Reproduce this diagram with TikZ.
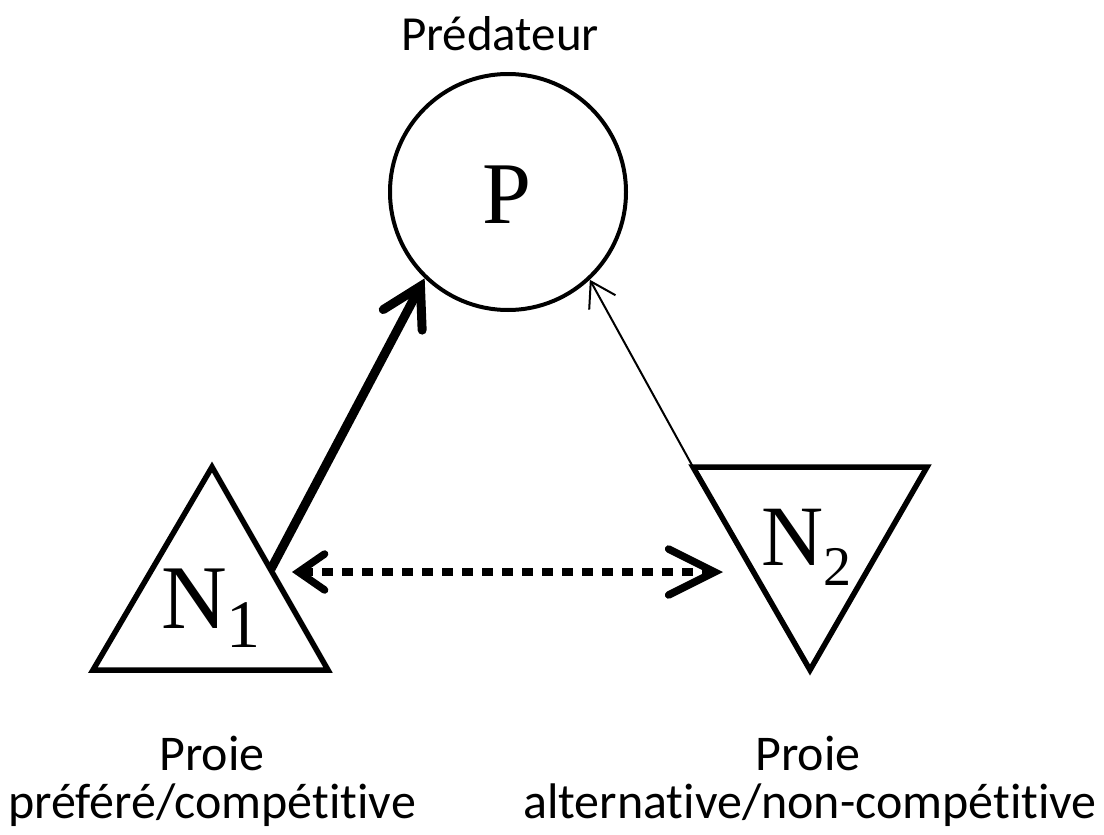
\documentclass[tikz,border=0pt]{standalone}
\usepackage{fontspec}
\setmainfont{Carlito}[Ligatures=NoCommon]
\newfontfamily\tnr{Liberation Serif}
\usetikzlibrary{arrows.meta}
\begin{document}
\begin{tikzpicture}[x=1pt,y=-1pt,
  lbl/.style={font=\fontsize{50}{50}\selectfont, anchor=base, inner sep=0},
  shapeline/.style={line width=5.5pt, line join=miter},
  sym/.style={anchor=base west, inner sep=0}]
\useasboundingbox (0,0) rectangle (1104,835);
% predator
\node[circle, draw, line width=4pt, minimum size=236pt, inner sep=0] (P) at (508,192) {};
\node[anchor=base, inner sep=0, font=\tnr\fontsize{88}{88}\selectfont] (Plbl) at (507,223) {P};
\node[lbl, font=\fontsize{49}{49}\selectfont] (pred) at (500,50) {Prédateur};
% prey 1
\coordinate (A1) at (212,467);
\coordinate (B1) at (93,670);
\coordinate (C1) at (328,670);
\draw[shapeline] (A1) -- (B1) -- (C1) -- cycle;
\node[sym, font=\tnr\fontsize{91}{91}\selectfont] (N1) at (161,628) {N\raisebox{-19pt}{\fontsize{68}{68}\selectfont 1}};
% prey 2
\coordinate (A2) at (693,467);
\coordinate (B2) at (927,467);
\coordinate (C2) at (810,670);
\draw[shapeline] (A2) -- (B2) -- (C2) -- cycle;
\node[sym, font=\tnr\fontsize{86}{86}\selectfont] (N2) at (761,565) {N\raisebox{-20pt}{\fontsize{56}{56}\selectfont 2}};
% connectors
\coordinate (E1) at (271,569);
\draw[line width=9pt, -{Straight Barb[length=38pt,width=44pt,line cap=round]}] (E1) -- (P.226.5);
\draw[line width=2pt, -{Straight Barb[length=24pt,width=30pt]}] (A2) -- (P.313);
\coordinate (D1) at (292,572);
\coordinate (D2) at (723,572);
\draw[line width=7.5pt, dash pattern=on 11pt off 9pt,
  {Straight Barb[length=26pt,width=36pt,line cap=round]}-{Straight Barb[length=46pt,width=46pt,line cap=round]}] (D1) -- (D2);
% labels
\node[lbl] (l1a) at (212,770) {Proie};
\node[lbl] (l1b) at (212,818) {préféré/compétitive};
\node[lbl] (l2a) at (808,770) {Proie};
\node[lbl] (l2b) at (810,818) {alternative/non-compétitive};
\end{tikzpicture}
\end{document}
